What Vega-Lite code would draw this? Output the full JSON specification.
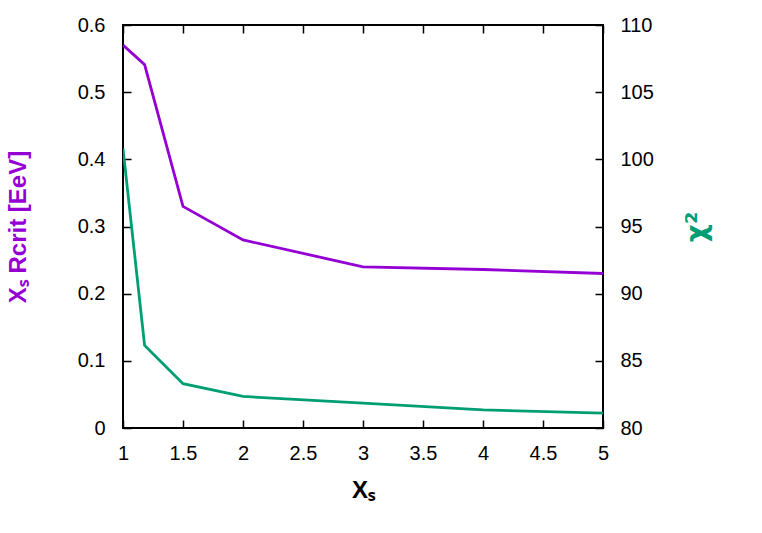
{
  "$schema": "https://vega.github.io/schema/vega-lite/v6.json",
  "width": 480,
  "height": 403,
  "autosize": {"type": "none"},
  "padding": {"left": 123, "top": 25, "right": 159, "bottom": 105},
  "background": "white",
  "config": {
    "view": {"stroke": "black", "strokeWidth": 2},
    "axis": {
      "labelFont": "Liberation Sans",
      "labelFontSize": 20,
      "labelColor": "black",
      "labelFlush": false,
      "labelOverlap": false,
      "titleFont": "Liberation Sans",
      "titleFontSize": 24,
      "titleFontWeight": "bold",
      "domain": false,
      "grid": false,
      "tickColor": "black",
      "tickWidth": 1.5,
      "tickSize": -8
    }
  },
  "data": {
    "values": [
      {"x": 1, "s": "R", "v": 0.57},
      {"x": 1.18, "s": "R", "v": 0.541},
      {"x": 1.5, "s": "R", "v": 0.33},
      {"x": 2, "s": "R", "v": 0.28},
      {"x": 3, "s": "R", "v": 0.24},
      {"x": 4, "s": "R", "v": 0.236},
      {"x": 5, "s": "R", "v": 0.23},
      {"x": 1, "s": "C", "v": 100.8},
      {"x": 1.18, "s": "C", "v": 86.15},
      {"x": 1.5, "s": "C", "v": 83.3},
      {"x": 2, "s": "C", "v": 82.35},
      {"x": 3, "s": "C", "v": 81.85},
      {"x": 4, "s": "C", "v": 81.35},
      {"x": 5, "s": "C", "v": 81.1}
    ]
  },
  "layer": [
    {
      "transform": [{"filter": "datum.s === 'R'"}],
      "mark": {"type": "line", "color": "#9400d3", "strokeWidth": 2.8, "clip": true},
      "encoding": {
        "x": {
          "field": "x", "type": "quantitative",
          "scale": {"domain": [1, 5], "nice": false, "zero": false},
          "axis": {"orient": "bottom", "values": [1, 1.5, 2, 2.5, 3, 3.5, 4, 4.5, 5], "format": "~g", "labelPadding": 23, "title": "Xₛ", "titleColor": "black", "titlePadding": 15}
        },
        "y": {
          "field": "v", "type": "quantitative",
          "scale": {"domain": [0, 0.6], "nice": false},
          "axis": {"orient": "left", "values": [0, 0.1, 0.2, 0.3, 0.4, 0.5, 0.6], "format": "~g", "labelPadding": 26, "title": "Xₛ  Rcrit [EeV]", "titleColor": "#9400d3", "titlePadding": 47}
        }
      }
    },
    {
      "transform": [{"filter": "datum.s === 'C'"}],
      "mark": {"type": "line", "color": "#009e73", "strokeWidth": 2.8, "clip": true},
      "encoding": {
        "x": {
          "field": "x", "type": "quantitative",
          "scale": {"domain": [1, 5], "nice": false, "zero": false},
          "axis": {"orient": "top", "values": [1, 1.5, 2, 2.5, 3, 3.5, 4, 4.5, 5], "labels": false, "title": null}
        },
        "y": {
          "field": "v", "type": "quantitative",
          "scale": {"domain": [80, 110], "nice": false, "zero": false},
          "axis": {"orient": "right", "values": [80, 85, 90, 95, 100, 105, 110], "labelPadding": 25, "title": "χ²", "titleFont": "DejaVu Sans", "titleFontSize": 28, "titleColor": "#009e73", "titleAngle": 270, "titlePadding": 58}
        }
      }
    }
  ],
  "resolve": {"scale": {"y": "independent"}, "axis": {"x": "independent"}}
}
